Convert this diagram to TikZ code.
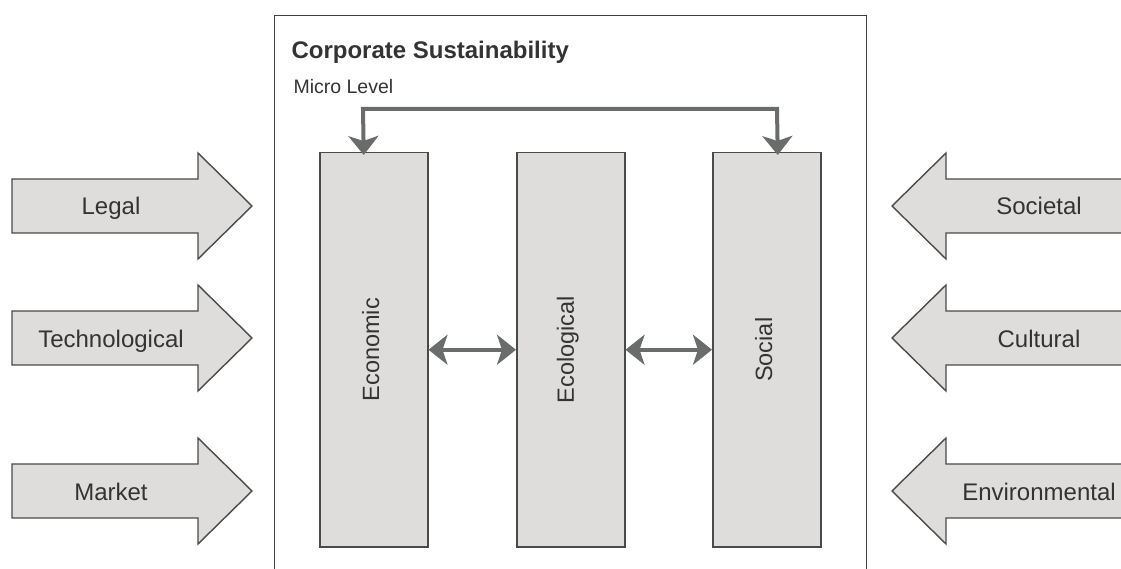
\documentclass[tikz,border=0pt]{standalone}
\usepackage{fontspec}
\setmainfont{Liberation Sans}
\usetikzlibrary{arrows.meta}
\definecolor{boxfill}{HTML}{DEDDDC}
\definecolor{edge}{HTML}{4A4A4A}
\definecolor{conn}{HTML}{6A6C6C}
\definecolor{ink}{HTML}{333333}
\tikzset{
  pillar/.style={draw=edge, line width=1.5pt, fill=boxfill, anchor=north west,
    minimum width=108pt, minimum height=394pt, inner sep=0pt},
  pillarlabel/.style={rotate=90, text=ink, font=\fontsize{23.5}{27}\selectfont},
  forcearrow/.style={draw=edge, line width=1.4pt, fill=boxfill, line join=miter},
  forcelabel/.style={text=ink, anchor=base, font=\fontsize{24}{28}\selectfont},
  link/.style={draw=conn, line width=4pt,
    {Stealth[length=19pt,width=30pt,inset=5pt]}-{Stealth[length=19pt,width=30pt,inset=5pt]}},
}
\begin{document}
\begin{tikzpicture}[x=1pt,y=-1pt]
\useasboundingbox (0,0) rectangle (1121,569);
\clip (0,0) rectangle (1121,569);

% frame of the corporate level
\node[draw=black!75, line width=1.3pt, anchor=north west, minimum width=592pt,
  minimum height=600pt, inner sep=0pt] (frame) at (274,15) {};
\node[anchor=base west, text=ink, font=\bfseries\fontsize{24}{28}\selectfont] (title) at (288,59) {Corporate Sustainability};
\node[anchor=base west, text=ink, font=\fontsize{19.5}{23}\selectfont] (micro) at (290,94) {Micro Level};

% the three pillars
\node[pillar] (econ) at (319,152) {};
\node[pillar] (ecol) at (516,152) {};
\node[pillar] (soc)  at (712,152) {};
\node[pillarlabel] (econlbl) at ([xshift=-3pt]econ.center) {Economic};
\node[pillarlabel] (ecollbl) at ([xshift=-3pt]ecol.center) {Ecological};
\node[pillarlabel] (soclbl)  at ([xshift=-3pt]soc.center)  {Social};

% links between pillars
\draw[link] (econ.east) -- (ecol.west);
\draw[link] (ecol.west -| ecol.east) -- (soc.west);
\coordinate (topL) at (363,109);
\coordinate (topR) at (777,109);
\draw[link, line join=miter] ([xshift=-10pt,yshift=-3pt]econ.north) -- (topL) -- (topR) -- ([xshift=11pt,yshift=-3pt]soc.north);

% external forces from the left
\foreach \name/\txt/\yc in {legal/Legal/206, tech/Technological/338, market/Market/491}{
  \draw[forcearrow] (12,\yc-27) -- (198,\yc-27) -- (198,\yc-53) -- (252,\yc)
     -- (198,\yc+53) -- (198,\yc+27) -- (12,\yc+27) -- cycle;
  \node[forcelabel] (\name) at (111,\yc+9) {\txt};
}
% external forces from the right
\foreach \name/\txt/\yc in {societal/Societal/206, cultural/Cultural/338, environ/Environmental/491}{
  \draw[forcearrow] (1135,\yc-27) -- (946,\yc-27) -- (946,\yc-53) -- (892,\yc)
     -- (946,\yc+53) -- (946,\yc+27) -- (1135,\yc+27) -- cycle;
  \node[forcelabel] (\name) at (1039,\yc+9) {\txt};
}
\end{tikzpicture}
\end{document}
